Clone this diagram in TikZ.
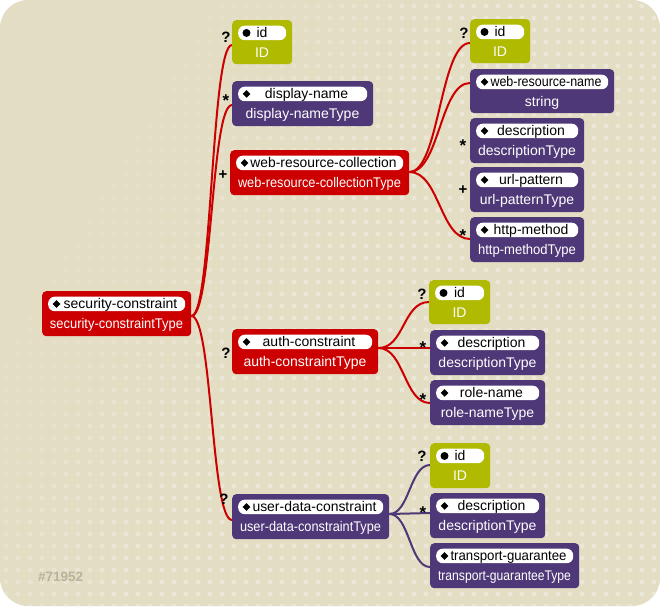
\documentclass[tikz,border=0pt]{standalone}
\usepackage{fontspec}
\usepackage{graphicx}
\setmainfont{Liberation Sans}
\definecolor{bgbeige}{HTML}{E3DDC4}
\definecolor{dotbeige}{HTML}{EBE7D6}
\definecolor{xred}{HTML}{CC0000}
\definecolor{xpurple}{HTML}{4F3877}
\definecolor{xgreen}{HTML}{AFBA00}
\definecolor{wmark}{HTML}{B9B29C}
\pgfdeclarelayer{back}
\pgfsetlayers{back,main}
\tikzset{
  elbox/.style={rounded corners=4pt, anchor=north west, inner sep=0pt, draw=none},
  pillbox/.style={fill=white, rounded corners=6.5pt, inner sep=0pt, minimum height=14.5pt, anchor=north west},
  nametext/.style={font=\fontsize{14}{16}\selectfont, text=black, inner sep=0pt, anchor=base},
  typetext/.style={font=\fontsize{14}{16}\selectfont, text=white, inner sep=0pt, anchor=base},
  mult/.style={font=\bfseries\fontsize{15}{17}\selectfont, inner sep=0pt, anchor=base},
  starmult/.style={font=\bfseries\fontsize{17}{19}\selectfont, inner sep=0pt, anchor=base},
  redlink/.style={draw=xred, line width=2pt},
  purplelink/.style={draw=xpurple, line width=2pt},
}
\newsavebox\fitbox
\newcommand\fitto[2]{\sbox\fitbox{#2}\ifdim\wd\fitbox>#1pt\resizebox{#1pt}{\height}{#2}\else#2\fi}
\newcommand\symdot[1]{\fill ([xshift=8.5pt]#1.west) circle (4pt);}
\newcommand\symdia[1]{\fill ([xshift=4.7pt]#1.west) -- ++(3.8,-3.8) -- ++(3.8,3.8) -- ++(-3.8,3.8) -- cycle;}
% name, x1, y1, x2, y2, colour, label, type, symbol
\newcommand\xel[9]{%
  \ifx#9\symdot\def\noff{0}\else\def\noff{4}\fi
  \node[elbox, fill=#6, minimum width={#4-#2}, minimum height={#5-#3}] (#1) at (#2,#3) {};
  \node[pillbox, minimum width={#4-#2-12}] (#1p) at (#2+6,#3+5.5) {};
  \pgfmathsetmacro\nw{#4-#2-33}%
  \pgfmathsetmacro\tw{#4-#2-16}%
  \node[nametext] (#1n) at ({(#2+#4)/2+\noff},#3+17.8) {\fitto{\nw}{#7}};
  \node[typetext] (#1t) at ({(#2+#4)/2},#3+37.5) {\fitto{\tw}{#8}};
  #9{#1p}%
}
% style, parent, parent shift, child, child shift, control
\newcommand\xlink[6]{\draw[#1] ([yshift=-#3pt]#2.north east) .. controls +(#6,0) and +(-#6,0) .. ([yshift=-#5pt]#4.north west);}
\begin{document}
\begin{tikzpicture}[x=1pt,y=-1pt]
\useasboundingbox (0,0) rectangle (660,607);
% elements
\xel{root}{42}{291}{191}{336}{xred}{security-constraint}{security-constraintType}{\symdia}
\xel{idA}{232}{20}{292}{64}{xgreen}{id}{ID}{\symdot}
\xel{dname}{232}{81}{373}{126}{xpurple}{display-name}{display-nameType}{\symdia}
\xel{wrc}{230}{150}{409}{195}{xred}{web-resource-collection}{web-resource-collectionType}{\symdia}
\xel{idB}{470}{19}{530}{63}{xgreen}{id}{ID}{\symdot}
\xel{wrn}{470}{69}{614}{113}{xpurple}{web-resource-name}{string}{\symdia}
\xel{descA}{470}{118}{584}{163}{xpurple}{description}{descriptionType}{\symdia}
\xel{url}{470}{167}{584}{212}{xpurple}{url-pattern}{url-patternType}{\symdia}
\xel{http}{470}{217}{584}{262}{xpurple}{http-method}{http-methodType}{\symdia}
\xel{auth}{232}{329}{378}{374}{xred}{auth-constraint}{auth-constraintType}{\symdia}
\xel{idC}{429}{280}{490}{324}{xgreen}{id}{ID}{\symdot}
\xel{descB}{430}{330}{545}{375}{xpurple}{description}{descriptionType}{\symdia}
\xel{role}{430}{380}{545}{425}{xpurple}{role-name}{role-nameType}{\symdia}
\xel{udc}{232}{494}{389}{539}{xpurple}{user-data-constraint}{user-data-constraintType}{\symdia}
\xel{idD}{430}{443}{490}{488}{xgreen}{id}{ID}{\symdot}
\xel{descC}{430}{493}{545}{538}{xpurple}{description}{descriptionType}{\symdia}
\xel{tg}{430}{543}{579}{588}{xpurple}{transport-guarantee}{transport-guaranteeType}{\symdia}
% multiplicities
\node[mult] (m1) at (226,42.4) {?};
\node[starmult] (m2) at (226,106.5) {*};
\node[mult] (m3) at (223,179.2) {+};
\node[mult] (m4) at (226,358.4) {?};
\node[mult] (m5) at (224,504.4) {?};
\node[mult] (m6) at (464,38.4) {?};
\node[starmult] (m7) at (463,151.5) {*};
\node[mult] (m8) at (463,194.2) {+};
\node[starmult] (m9) at (463,241.5) {*};
\node[mult] (m10) at (422,299) {?};
\node[starmult] (m11) at (423,353.5) {*};
\node[starmult] (m12) at (423,405.5) {*};
\node[mult] (m13) at (422,461) {?};
\node[starmult] (m14) at (423,518.5) {*};
% watermark
\node[font=\bfseries\fontsize{13.5}{15}\selectfont, text=wmark, inner sep=0pt, anchor=base west] (wm) at (38,581) {\#71952};
\begin{pgfonlayer}{back}
\fill[white] (0,0) rectangle (660,607);
\fill[bgbeige, rounded corners=28pt] (0,0) rectangle (660,606);
\begin{scope}
\clip[rounded corners=28pt] (0,0) rectangle (660,606);
\foreach \i in {0,...,54}{\foreach \j in {0,...,50}{
  \pgfmathsetmacro\op{max(0,min(1,(12*\i+0.6*12*\j-150)/300))}
  \fill[dotbeige, fill opacity=\op] (6+12*\i,6+12*\j) circle (2.6pt);
}}
\end{scope}
% connectors
\xlink{redlink}{root}{25}{idA}{25}{21}
\xlink{redlink}{root}{25}{dname}{24}{21}
\xlink{redlink}{root}{25}{udc}{26}{21}
\xlink{redlink}{wrc}{22}{idB}{24}{30}
\xlink{redlink}{wrc}{22}{wrn}{14}{30}
\xlink{redlink}{wrc}{22}{http}{22}{30}
\xlink{redlink}{auth}{19}{idC}{22}{26}
\xlink{redlink}{auth}{19}{descB}{18}{26}
\xlink{redlink}{auth}{19}{role}{23}{26}
\xlink{purplelink}{udc}{20}{idD}{22}{20}
\xlink{purplelink}{udc}{20}{descC}{20}{20}
\xlink{purplelink}{udc}{20}{tg}{24}{20}
\end{pgfonlayer}
\end{tikzpicture}
\end{document}
